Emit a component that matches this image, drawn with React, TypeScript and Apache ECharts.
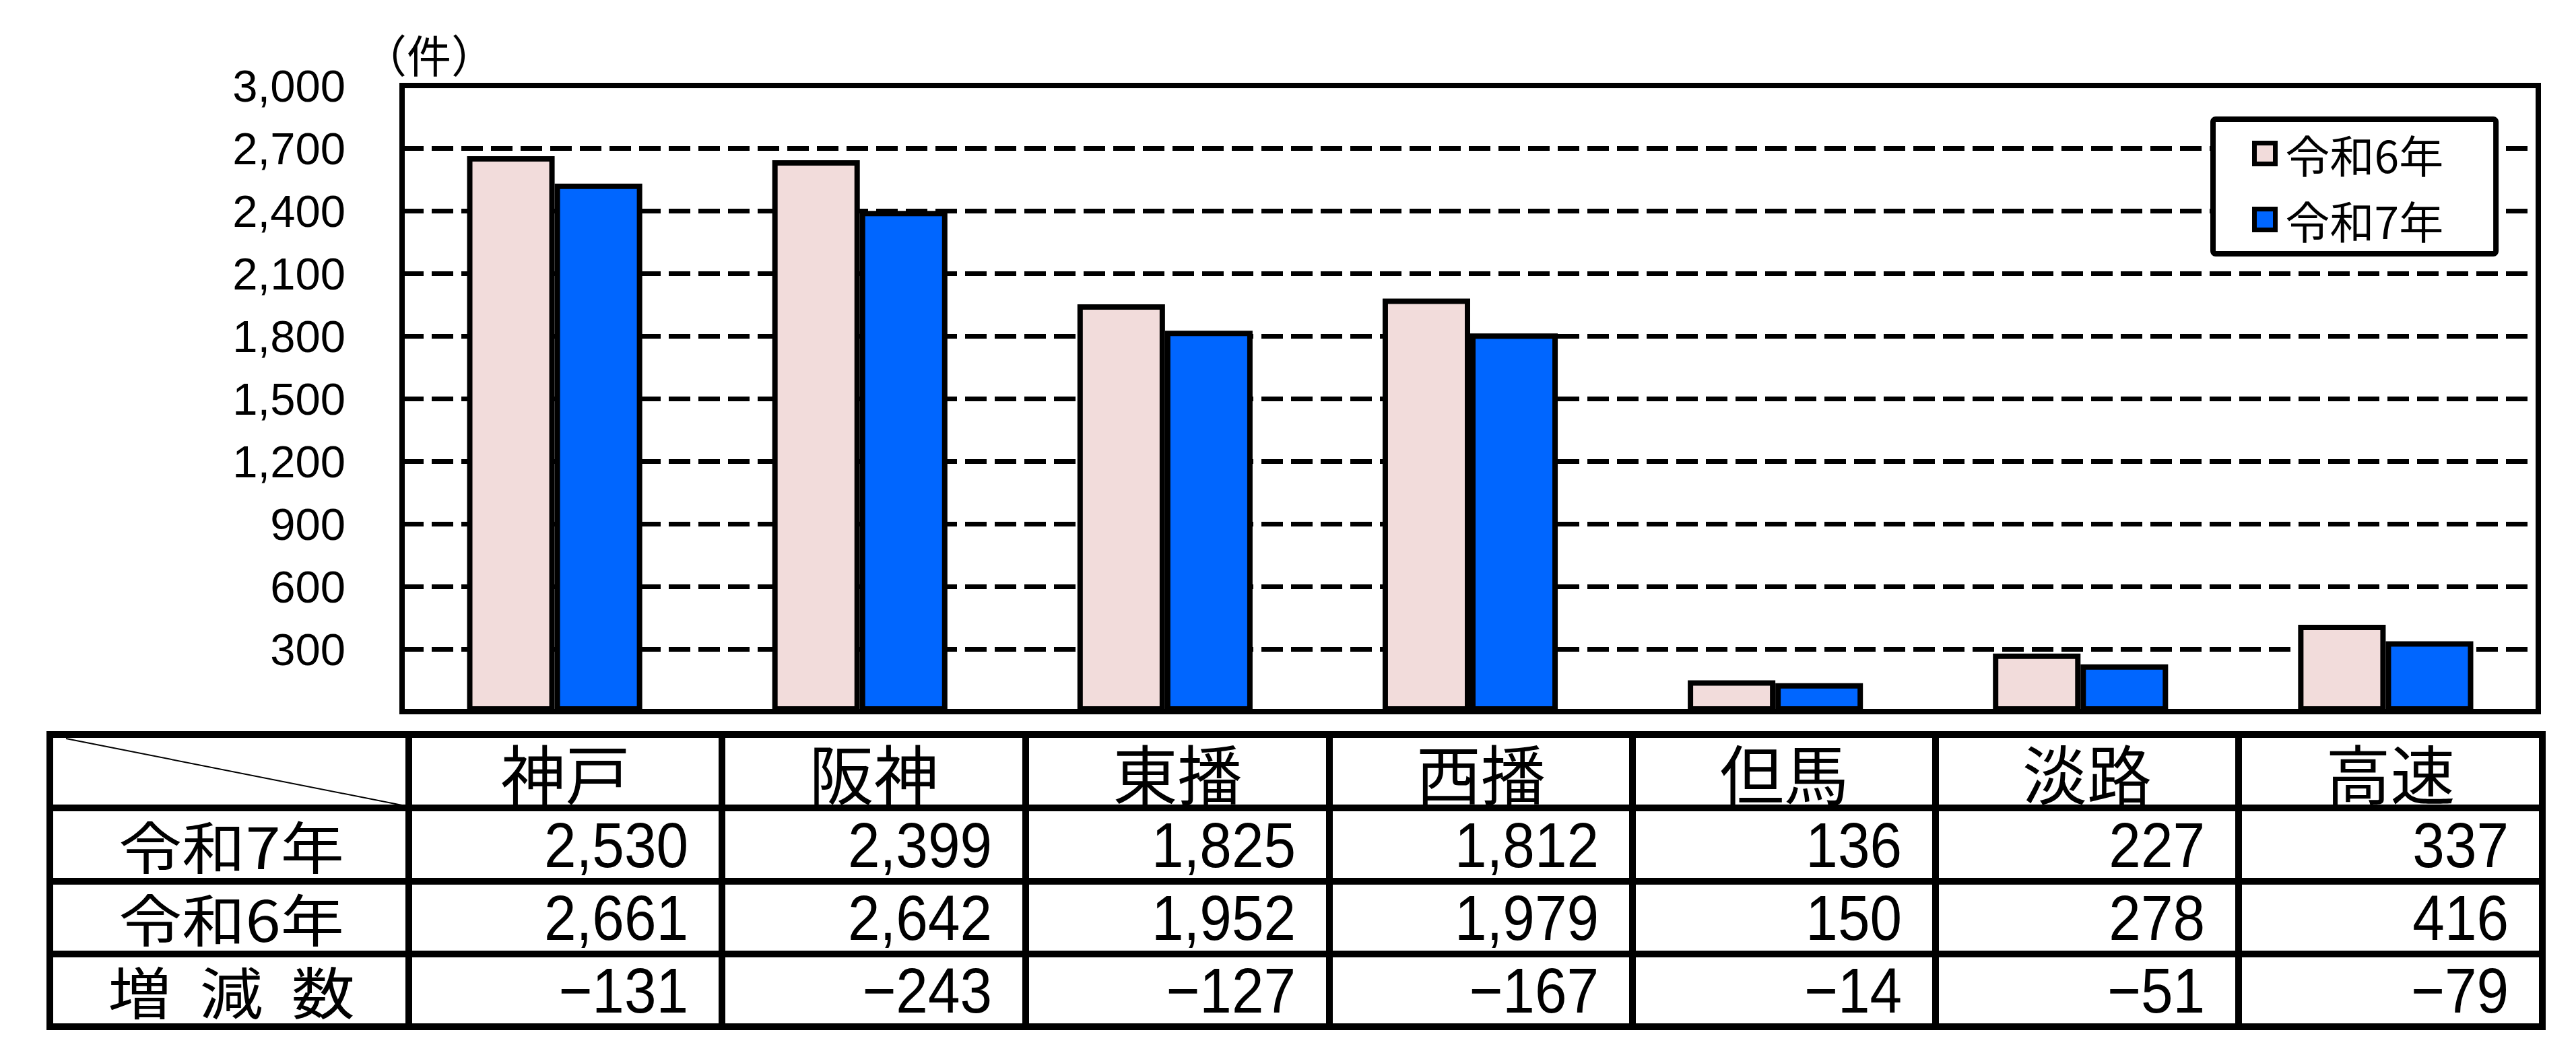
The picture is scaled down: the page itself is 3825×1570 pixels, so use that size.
import React, { useEffect, useRef } from 'react';
import * as echarts from 'echarts';

// ---- data ----
const categories = ['神戸', '阪神', '東播', '西播', '但馬', '淡路', '高速'];
const seriesNames = ['令和6年', '令和7年'];
const valuesR6 = [2661, 2642, 1952, 1979, 150, 278, 416];
const valuesR7 = [2530, 2399, 1825, 1812, 136, 227, 337];
const diffValues = [-131, -243, -127, -167, -14, -51, -79];
const rowLabels = ['令和7年', '令和6年', '増  減  数'];
const unitLabel = '（件）';

// ---- layout / style ----
const W = 3825;
const H = 1570;
const GRID = { left: 597, top: 127, right: 56, bottom: 513 };
const COL_EDGES = [74, 607, 1072, 1523, 1974, 2424, 2874, 3324, 3775];
const ROW_EDGES = [1091, 1200, 1309, 1417, 1525];
const FONT_JP = '"Noto Sans CJK JP", "Noto Sans", sans-serif';
const FONT_NUM = '"Liberation Sans", Arial, sans-serif';
const PINK = '#F2DCDB';
const BLUE = '#0066FF';

const fmt = (v: number) =>
  v < 0 ? '\u2212' + Math.abs(v).toLocaleString('en-US') : v.toLocaleString('en-US');

function txt(text: string, x: number, y: number, align: string, fontSize: number, family: string, scaleX = 1) {
  return {
    type: 'text',
    x,
    y,
    scaleX,
    silent: true,
    z: 10,
    style: {
      text,
      fill: '#000',
      fontSize,
      lineHeight: fontSize,
      fontFamily: family,
      align,
      verticalAlign: 'middle',
      textAlign: align,
      textVerticalAlign: 'middle',
    },
  };
}

function line(x1: number, y1: number, x2: number, y2: number, w: number) {
  return {
    type: 'line',
    silent: true,
    z: 9,
    shape: { x1, y1, x2, y2 },
    style: { stroke: '#000', lineWidth: w },
  };
}

function buildTable() {
  const els: any[] = [];
  const L = COL_EDGES[0];
  const R = COL_EDGES[COL_EDGES.length - 1];
  const T = ROW_EDGES[0];
  const B = ROW_EDGES[ROW_EDGES.length - 1];
  els.push({
    type: 'rect',
    silent: true,
    z: 8,
    shape: { x: L, y: T, width: R - L, height: B - T },
    style: { fill: '#fff', stroke: '#000', lineWidth: 10 },
  });
  for (let i = 1; i < ROW_EDGES.length - 1; i++) els.push(line(L, ROW_EDGES[i], R, ROW_EDGES[i], 10));
  for (let i = 1; i < COL_EDGES.length - 1; i++) els.push(line(COL_EDGES[i], T, COL_EDGES[i], B, 10));
  // diagonal in corner cell
  els.push(line(98, 1097, 602, 1197, 2));
  // header
  categories.forEach((c, i) => {
    const cx = (COL_EDGES[i + 1] + COL_EDGES[i + 2]) / 2;
    const cy = (ROW_EDGES[0] + ROW_EDGES[1]) / 2;
    els.push(txt(c, cx, cy, 'center', 96, FONT_JP));
  });
  // rows
  const rows = [valuesR7, valuesR6, diffValues];
  rows.forEach((vals, r) => {
    const cy = (ROW_EDGES[r + 1] + ROW_EDGES[r + 2]) / 2;
    const lx = (COL_EDGES[0] + COL_EDGES[1]) / 2 + 3;
    els.push(txt(rowLabels[r], lx, cy, 'center', 84, FONT_JP, 1.12));
    vals.forEach((v, i) => {
      const rx = COL_EDGES[i + 2] - 50;
      els.push(txt(fmt(v), rx, cy, 'right', 95, FONT_NUM, 0.9));
    });
  });
  // unit label
  els.push(txt(unitLabel, 637, 79, 'center', 66, FONT_JP));
  return els;
}

export default function App() {
  const ref = useRef<HTMLDivElement>(null);
  useEffect(() => {
    document.body.style.margin = '0';
    const chart = echarts.init(ref.current!, null, { renderer: 'svg' });
    const option: any = {
      animation: false,
      backgroundColor: '#fff',
      grid: {
        left: GRID.left,
        top: GRID.top,
        right: GRID.right,
        bottom: GRID.bottom,
        show: true,
        borderColor: '#000',
        borderWidth: 8,
        backgroundColor: '#fff',
      },
      legend: {
        orient: 'vertical',
        left: 3286,
        top: 177,
        backgroundColor: '#fff',
        borderColor: '#000',
        borderWidth: 8,
        borderRadius: 4,
        padding: [18, 78, 18, 58],
        itemWidth: 31,
        itemHeight: 31,
        itemGap: 32,
        icon: 'rect',
        itemStyle: { borderColor: '#000', borderWidth: 7 },
        textStyle: {
          fontSize: 66,
          fontFamily: FONT_JP,
          color: '#000',
          lineHeight: 64,
          padding: [0, 0, 0, 10],
        },
        data: seriesNames,
      },
      xAxis: {
        type: 'category',
        data: categories,
        axisLine: { show: false },
        axisTick: { show: false },
        axisLabel: { show: false },
        splitLine: { show: false },
      },
      yAxis: {
        type: 'value',
        min: 0,
        max: 3000,
        interval: 300,
        axisLine: { show: false },
        axisTick: { show: false },
        axisLabel: {
          formatter: (v: number) => (v === 0 ? '' : v.toLocaleString('en-US')),
          fontSize: 67,
          fontFamily: FONT_NUM,
          color: '#000',
          margin: 84,
        },
        splitLine: { show: true, lineStyle: { color: '#000', width: 7, type: [32, 12] } },
      },
      series: [
        {
          name: seriesNames[0],
          type: 'bar',
          data: valuesR6,
          barGap: '0%',
          barCategoryGap: '42.6%',
          itemStyle: { color: PINK, borderColor: '#000', borderWidth: 8 },
        },
        {
          name: seriesNames[1],
          type: 'bar',
          data: valuesR7,
          barGap: '0%',
          barCategoryGap: '42.6%',
          itemStyle: { color: BLUE, borderColor: '#000', borderWidth: 8 },
        },
      ],
      graphic: { elements: buildTable() },
    };
    chart.setOption(option);
    return () => chart.dispose();
  }, []);
  return (
    <div
      ref={ref}
      style={{ position: 'absolute', left: 0, top: 0, width: W, height: H, background: '#fff' }}
    />
  );
}
